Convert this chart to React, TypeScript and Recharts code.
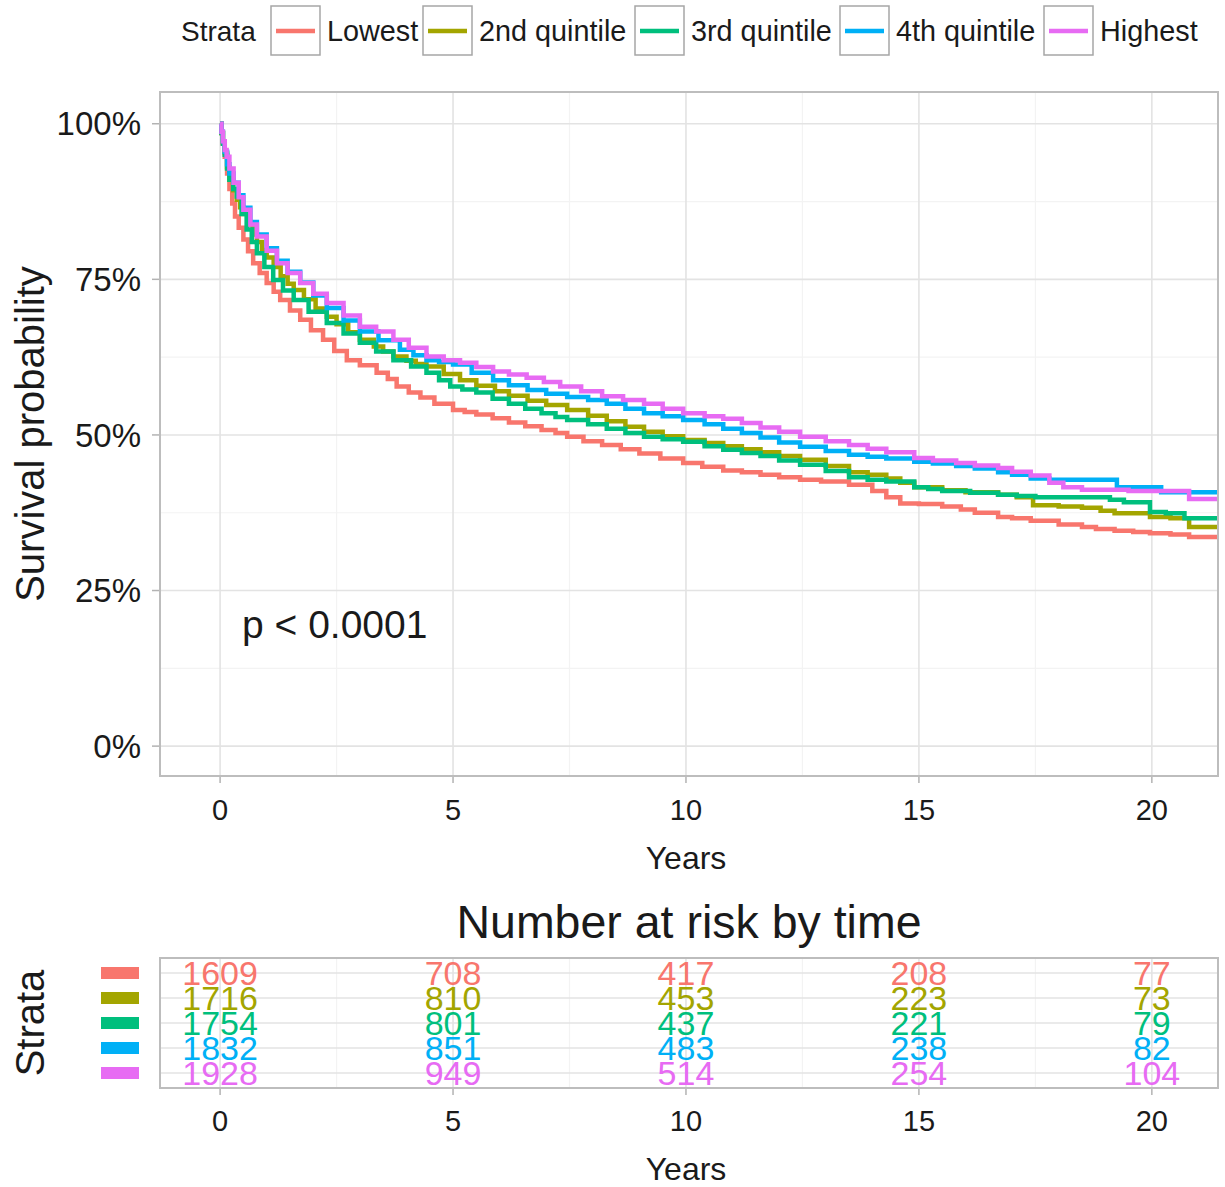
import React from 'react';
import { LineChart, Line, XAxis, YAxis, CartesianGrid, ScatterChart, Scatter } from 'recharts';

// ---------- data ----------
const strata = ['Lowest', '2nd quintile', '3rd quintile', '4th quintile', 'Highest'];
const colors = ['#F8766D', '#A3A500', '#00BF7D', '#00B0F6', '#E76BF3'];

const lowestT = [0, 0.03, 0.06, 0.1, 0.15, 0.2, 0.26, 0.32, 0.4, 0.5, 0.6, 0.71, 0.85, 1.0, 1.15, 1.29, 1.5, 1.72, 1.95, 2.21, 2.45, 2.72, 3.0, 3.36, 3.6, 3.79, 4.05, 4.3, 4.6, 5.0, 5.25, 5.5, 5.85, 6.2, 6.55, 6.9, 7.2, 7.45, 7.8, 8.2, 8.6, 9.0, 9.45, 9.94, 10.35, 10.8, 11.2, 11.6, 12.0, 12.45, 12.9, 13.5, 14.0, 14.3, 14.6, 15.0, 15.5, 15.9, 16.2, 16.7, 17.0, 17.4, 18.0, 18.5, 18.8, 19.2, 19.6, 19.96, 20.4, 20.8, 21.42];
const lowestS = [1.0, 0.985, 0.968, 0.947, 0.92, 0.895, 0.872, 0.851, 0.833, 0.814, 0.795, 0.776, 0.76, 0.744, 0.73, 0.717, 0.7, 0.685, 0.668, 0.653, 0.635, 0.62, 0.612, 0.6, 0.59, 0.578, 0.568, 0.56, 0.55, 0.54, 0.537, 0.533, 0.527, 0.52, 0.514, 0.508, 0.503, 0.497, 0.49, 0.484, 0.477, 0.47, 0.462, 0.455, 0.449, 0.443, 0.44, 0.436, 0.432, 0.428, 0.425, 0.42, 0.41, 0.4, 0.39, 0.389, 0.385, 0.38, 0.375, 0.368, 0.366, 0.362, 0.356, 0.352, 0.349, 0.346, 0.344, 0.342, 0.34, 0.336, 0.336];

const q2T = [0, 0.03, 0.06, 0.1, 0.15, 0.2, 0.28, 0.36, 0.43, 0.5, 0.6, 0.7, 0.79, 0.9, 1.0, 1.15, 1.3, 1.45, 1.58, 1.8, 2.05, 2.29, 2.5, 2.75, 3.0, 3.3, 3.5, 3.72, 4.0, 4.2, 4.43, 4.8, 5.15, 5.5, 5.9, 6.2, 6.6, 7.0, 7.45, 7.9, 8.3, 8.7, 9.1, 9.5, 9.94, 10.4, 10.8, 11.2, 11.6, 12.0, 12.45, 13.0, 13.5, 13.9, 14.3, 14.6, 14.9, 15.5, 16.0, 16.7, 17.1, 17.45, 18.0, 18.5, 18.9, 19.2, 19.96, 20.4, 20.8, 21.42];
const q2S = [1, 0.985, 0.97, 0.953, 0.93, 0.91, 0.893, 0.878, 0.866, 0.855, 0.838, 0.822, 0.81, 0.797, 0.785, 0.77, 0.755, 0.743, 0.733, 0.718, 0.703, 0.69, 0.678, 0.665, 0.653, 0.642, 0.634, 0.626, 0.619, 0.614, 0.61, 0.598, 0.588, 0.579, 0.57, 0.563, 0.555, 0.548, 0.54, 0.531, 0.522, 0.513, 0.505, 0.498, 0.492, 0.487, 0.482, 0.477, 0.472, 0.466, 0.46, 0.45, 0.44, 0.436, 0.43, 0.423, 0.416, 0.411, 0.408, 0.404, 0.4, 0.387, 0.385, 0.383, 0.378, 0.374, 0.368, 0.366, 0.352, 0.352];

const q3T = [0, 0.03, 0.06, 0.1, 0.15, 0.2, 0.28, 0.36, 0.46, 0.57, 0.68, 0.79, 0.95, 1.14, 1.35, 1.58, 1.9, 2.29, 2.65, 3.0, 3.35, 3.72, 4.1, 4.43, 4.7, 4.94, 5.2, 5.5, 5.85, 6.2, 6.55, 6.9, 7.2, 7.45, 7.9, 8.3, 8.7, 9.1, 9.5, 9.94, 10.4, 10.8, 11.2, 11.6, 12.0, 12.45, 13.0, 13.5, 13.9, 14.3, 14.9, 15.2, 15.5, 16.1, 16.7, 17.1, 17.5, 18.8, 19.1, 19.4, 19.96, 20.3, 20.7, 21.42];
const q3S = [1, 0.985, 0.968, 0.95, 0.928, 0.91, 0.895, 0.883, 0.855, 0.83, 0.81, 0.792, 0.77, 0.749, 0.732, 0.717, 0.698, 0.68, 0.663, 0.648, 0.634, 0.62, 0.61, 0.6, 0.588, 0.578, 0.573, 0.568, 0.558, 0.55, 0.542, 0.535, 0.529, 0.524, 0.517, 0.51, 0.503, 0.497, 0.493, 0.489, 0.482, 0.476, 0.471, 0.466, 0.459, 0.452, 0.442, 0.432, 0.428, 0.425, 0.416, 0.413, 0.41, 0.407, 0.404, 0.402, 0.4, 0.4, 0.396, 0.392, 0.376, 0.374, 0.366, 0.366];

const q4T = [0, 0.03, 0.06, 0.1, 0.15, 0.2, 0.29, 0.4, 0.5, 0.65, 0.79, 1.0, 1.22, 1.45, 1.72, 2.0, 2.29, 2.65, 3.0, 3.4, 3.86, 4.15, 4.43, 4.7, 5.0, 5.4, 5.86, 6.2, 6.6, 7.0, 7.45, 7.9, 8.3, 8.7, 9.1, 9.5, 9.94, 10.4, 10.8, 11.2, 11.6, 12.0, 12.45, 13.0, 13.5, 13.9, 14.3, 14.9, 15.3, 15.8, 16.2, 16.7, 17.0, 17.4, 17.8, 19.25, 20.2, 21.42];
const q4S = [1, 0.987, 0.972, 0.955, 0.935, 0.92, 0.905, 0.885, 0.865, 0.842, 0.822, 0.8, 0.78, 0.762, 0.745, 0.724, 0.704, 0.684, 0.666, 0.652, 0.637, 0.628, 0.62, 0.617, 0.613, 0.6, 0.588, 0.58, 0.572, 0.566, 0.561, 0.556, 0.55, 0.542, 0.535, 0.53, 0.524, 0.517, 0.51, 0.503, 0.496, 0.488, 0.481, 0.474, 0.468, 0.465, 0.462, 0.457, 0.454, 0.45, 0.446, 0.44, 0.436, 0.43, 0.428, 0.416, 0.408, 0.408];

const highestT = [0, 0.03, 0.06, 0.1, 0.14, 0.2, 0.29, 0.4, 0.5, 0.65, 0.79, 1.0, 1.22, 1.45, 1.72, 2.0, 2.29, 2.65, 3.0, 3.35, 3.72, 4.05, 4.43, 4.8, 5.15, 5.5, 5.86, 6.2, 6.58, 6.95, 7.3, 7.75, 8.2, 8.65, 9.1, 9.5, 9.94, 10.4, 10.8, 11.2, 11.6, 12.0, 12.45, 13.0, 13.5, 13.9, 14.3, 14.9, 15.3, 15.8, 16.2, 16.7, 17.0, 17.4, 17.8, 18.1, 18.5, 19.5, 20.8, 21.42];
const highestS = [1, 0.987, 0.972, 0.958, 0.947, 0.928, 0.905, 0.882, 0.862, 0.838, 0.819, 0.796, 0.776, 0.76, 0.744, 0.727, 0.712, 0.692, 0.674, 0.666, 0.653, 0.64, 0.626, 0.62, 0.616, 0.609, 0.602, 0.597, 0.592, 0.585, 0.578, 0.57, 0.562, 0.556, 0.55, 0.542, 0.535, 0.53, 0.526, 0.519, 0.512, 0.505, 0.497, 0.49, 0.484, 0.478, 0.472, 0.463, 0.459, 0.455, 0.451, 0.447, 0.441, 0.435, 0.423, 0.416, 0.412, 0.41, 0.397, 0.397];

const riskTimes = [0, 5, 10, 15, 20];
const riskLowest = [1609, 708, 417, 208, 77];
const risk2nd = [1716, 810, 453, 223, 73];
const risk3rd = [1754, 801, 437, 221, 79];
const risk4th = [1832, 851, 483, 238, 82];
const riskHighest = [1928, 949, 514, 254, 104];

const xTicks = [0, 5, 10, 15, 20];
const xMinor = [2.5, 7.5, 12.5, 17.5];
const yTicks = [0, 0.25, 0.5, 0.75, 1];
const yMinor = [0.125, 0.375, 0.625, 0.875];
const rowTicks = [0, 1, 2, 3, 4];

const pText = 'p < 0.0001';

// ---------- derived ----------
const curveT = [lowestT, q2T, q3T, q4T, highestT];
const curveS = [lowestS, q2S, q3S, q4S, highestS];
const curves = curveT.map((ts, i) => ts.map((t, j) => ({ t, s: curveS[i][j] })));
const riskRows = [riskLowest, risk2nd, risk3rd, risk4th, riskHighest];
const riskData = riskRows.map((row, i) => riskTimes.map((t, j) => ({ x: t, y: i, n: row[j] })));

const FONT = '"Liberation Sans", Arial, Helvetica, sans-serif';
const TXT = '#1a1a1a';
const MAJOR = '#e3e3e3';
const MINOR = '#f3f3f3';
const TICK = '#b3b3b3';
const XDOM: [number, number] = [-1.29, 21.42];

// legend layout
const legendBoxX = [271, 423, 635, 840, 1044];

const BarTick = (props: any) => {
  const { x, y, payload } = props;
  return <rect x={x - 59} y={y - 6} width={38} height={12} fill={colors[payload.value]} />;
};

export default function App() {
  return (
    <div style={{ position: 'absolute', left: 0, top: 0, width: 1225, height: 1187, background: '#fff', fontFamily: FONT }}>
      {/* main survival plot */}
      <div style={{ position: 'absolute', left: 0, top: 0 }}>
        <LineChart width={1225} height={880} margin={{ top: 92, right: 7, left: 0, bottom: 0 }}>
          <CartesianGrid stroke={MINOR} strokeWidth={1.2} verticalValues={xMinor} horizontalValues={yMinor} />
          <CartesianGrid stroke={MAJOR} strokeWidth={1.6} verticalValues={xTicks} horizontalValues={yTicks} />
          <XAxis type="number" dataKey="t" domain={XDOM} ticks={xTicks} allowDataOverflow height={104}
            tickSize={7} tickMargin={16} axisLine={false} tickLine={{ stroke: TICK, strokeWidth: 1.5 }}
            tick={{ fontSize: 29, fill: TXT }} interval={0} />
          <YAxis type="number" domain={[-0.048, 1.051]} ticks={yTicks} allowDataOverflow width={160}
            tickSize={8} tickMargin={11} axisLine={false} tickLine={{ stroke: TICK, strokeWidth: 1.5 }}
            tick={{ fontSize: 33, fill: TXT }} interval={0}
            tickFormatter={(v: number) => `${Math.round(v * 100)}%`} />
          {curves.map((d, i) => (
            <Line key={strata[i]} data={d} dataKey="s" type="stepAfter" stroke={colors[i]} strokeWidth={4.5}
              dot={false} activeDot={false} isAnimationActive={false} name={strata[i]} />
          ))}
        </LineChart>
      </div>

      {/* risk table */}
      <div style={{ position: 'absolute', left: 0, top: 880 }}>
        <ScatterChart width={1225} height={307} margin={{ top: 78, right: 7, left: 0, bottom: 0 }}>
          <CartesianGrid stroke={MINOR} strokeWidth={1.2} verticalValues={xMinor} horizontal={false} />
          <CartesianGrid stroke={MAJOR} strokeWidth={1.6} verticalValues={xTicks} horizontalValues={rowTicks} />
          <XAxis type="number" dataKey="x" domain={XDOM} ticks={xTicks} allowDataOverflow height={99}
            tickSize={7} tickMargin={15} axisLine={false} tickLine={{ stroke: TICK, strokeWidth: 1.5 }}
            tick={{ fontSize: 29, fill: TXT }} interval={0} />
          <YAxis type="number" dataKey="y" domain={[-0.6, 4.6]} reversed ticks={rowTicks} width={160}
            tickSize={0} tickMargin={0} axisLine={false} tickLine={false} tick={<BarTick />} interval={0} />
          {riskData.map((d, i) => (
            <Scatter key={strata[i]} data={d} fill={colors[i]} isAnimationActive={false}
              shape={(p: any) => (
                <text x={p.cx} y={p.cy} textAnchor="middle" dominantBaseline="central" fontSize={34} fill={colors[i]}>
                  {p.payload.n}
                </text>
              )} />
          ))}
        </ScatterChart>
      </div>

      {/* panel borders */}
      <div style={{ position: 'absolute', left: 159, top: 91, width: 1060, height: 686, border: '2px solid #bdbdbd', boxSizing: 'border-box', pointerEvents: 'none' }} />
      <div style={{ position: 'absolute', left: 159, top: 957, width: 1060, height: 132, border: '2px solid #bdbdbd', boxSizing: 'border-box', pointerEvents: 'none' }} />

      {/* text overlay: titles, legend, p-value */}
      <svg width={1225} height={1187} style={{ position: 'absolute', left: 0, top: 0, pointerEvents: 'none' }}>
        <text x={181} y={41} fontSize={28} fill={TXT}>Strata</text>
        {strata.map((s, i) => (
          <g key={s}>
            <rect x={legendBoxX[i]} y={6} width={49} height={49} fill="#fff" stroke="#a6a6a6" strokeWidth={1.5} />
            <line x1={legendBoxX[i] + 5} x2={legendBoxX[i] + 44} y1={31} y2={31} stroke={colors[i]} strokeWidth={4.5} />
            <text x={legendBoxX[i] + 56} y={41} fontSize={28.8} fill={TXT}>{s}</text>
          </g>
        ))}
        <text transform="translate(44,434) rotate(-90)" textAnchor="middle" fontSize={40} fill={TXT}>Survival probability</text>
        <text x={242} y={638} fontSize={39} fill={TXT}>{pText}</text>
        <text x={686} y={869} textAnchor="middle" fontSize={32} fill={TXT}>Years</text>
        <text x={689} y={938} textAnchor="middle" fontSize={46.5} fill={TXT}>Number at risk by time</text>
        <text transform="translate(44,1023) rotate(-90)" textAnchor="middle" fontSize={40} fill={TXT}>Strata</text>
        <text x={686} y={1180} textAnchor="middle" fontSize={32} fill={TXT}>Years</text>
      </svg>
    </div>
  );
}
